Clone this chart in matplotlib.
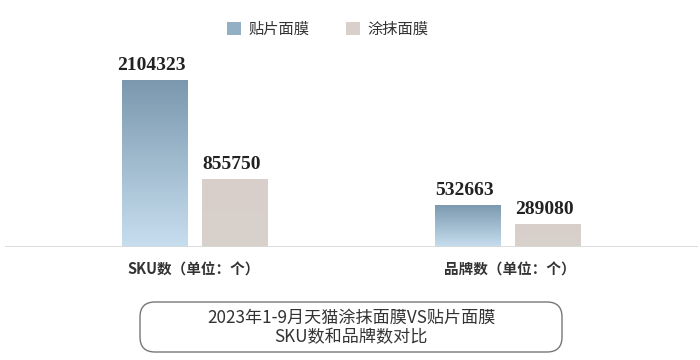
import matplotlib
matplotlib.use("Agg")
import matplotlib.pyplot as plt
import numpy as np
from matplotlib.patches import FancyBboxPatch, Patch

plt.rcParams['font.family'] = ['Noto Sans CJK SC', 'DejaVu Sans']

# donnees
groupes = ['SKU数（单位：个）', '品牌数（单位：个）']
series = ['贴片面膜', '涂抹面膜']
tiepian = [2104323, 532663]
tumo = [855750, 289080]
titre = '2023年1-9月天猫涂抹面膜VS贴片面膜\nSKU数和品牌数对比'

W, H = 700, 360
fig = plt.figure(figsize=(W / 100, H / 100), dpi=100)

# axes : ligne de base a y=247 px, de x=5 a x=698 px
base_y = 247
top_y = 10
ax = fig.add_axes([5 / W, (H - base_y) / H, 693 / W, (base_y - top_y) / H])
ymax = max(tiepian) * (base_y - top_y) / (base_y - 80)
ax.axis('off')

largeur = 0.2077
decal = 0.1278
x = np.arange(len(groupes))

degrades = [
    ('#7b98ae', '#c7deef'),   # bleu
    ('#d9cfca', '#d8d1cc'),   # beige
]

def couleur_degrade(haut, bas, n=256):
    c1 = np.array(matplotlib.colors.to_rgb(haut))
    c2 = np.array(matplotlib.colors.to_rgb(bas))
    t = np.linspace(0, 1, n)[:, None]
    return (c1 * (1 - t) + c2 * t)[:, None, :]

for k, (vals, off) in enumerate([(tiepian, -decal), (tumo, decal)]):
    barres = ax.bar(x + off, vals, largeur, color='none', edgecolor='none')
    img = couleur_degrade(*degrades[k])
    for b, v in zip(barres, vals):
        x0 = b.get_x()
        im = ax.imshow(img, extent=[x0, x0 + largeur, 0, v], aspect='auto',
                       origin='upper', zorder=2)
        im.set_clip_path(b)
        ax.text(x0 + largeur / 2 - 0.01, v + ymax * 0.025, str(v),
                ha='center', va='bottom', fontsize=14, fontweight='bold',
                family='Liberation Serif', color='#222222')

ax.set_xlim(-0.6054, 1.6086)
ax.set_ylim(0, ymax)

# ligne de base
ax.axhline(0, color='#d9d9d9', lw=2, zorder=3)

centres_lab = [194, 510]
for c, g in zip(centres_lab, groupes):
    fig.text(c / W, 1 - 270 / H, g,
             ha='center', va='center', fontsize=10.5, color='#333333',
             fontweight='bold')

# legende
poignees = [Patch(facecolor='#93afc4', edgecolor='none'),
            Patch(facecolor='#d9d0cb', edgecolor='none')]
fig.legend(poignees, series, loc='center', bbox_to_anchor=(328 / W, 1 - 29 / H),
           ncol=2, frameon=False, fontsize=11, handlelength=0.9,
           handleheight=0.9, handletextpad=0.5, columnspacing=2.4,
           labelcolor='#333333')

# cadre du titre
boite = FancyBboxPatch((140 / W, 1 - 352 / H), 422 / W, 50 / H,
                       boxstyle='round,pad=0,rounding_size=%f' % (15 / W),
                       mutation_aspect=W / H, transform=fig.transFigure,
                       facecolor='white', edgecolor='#777777', lw=1)
fig.patches.append(boite)
fig.text(351 / W, 1 - 327.5 / H, titre, ha='center', va='center',
         fontsize=12.3, color='#333333', linespacing=1.12)

fig.savefig('out.png', dpi=100)
